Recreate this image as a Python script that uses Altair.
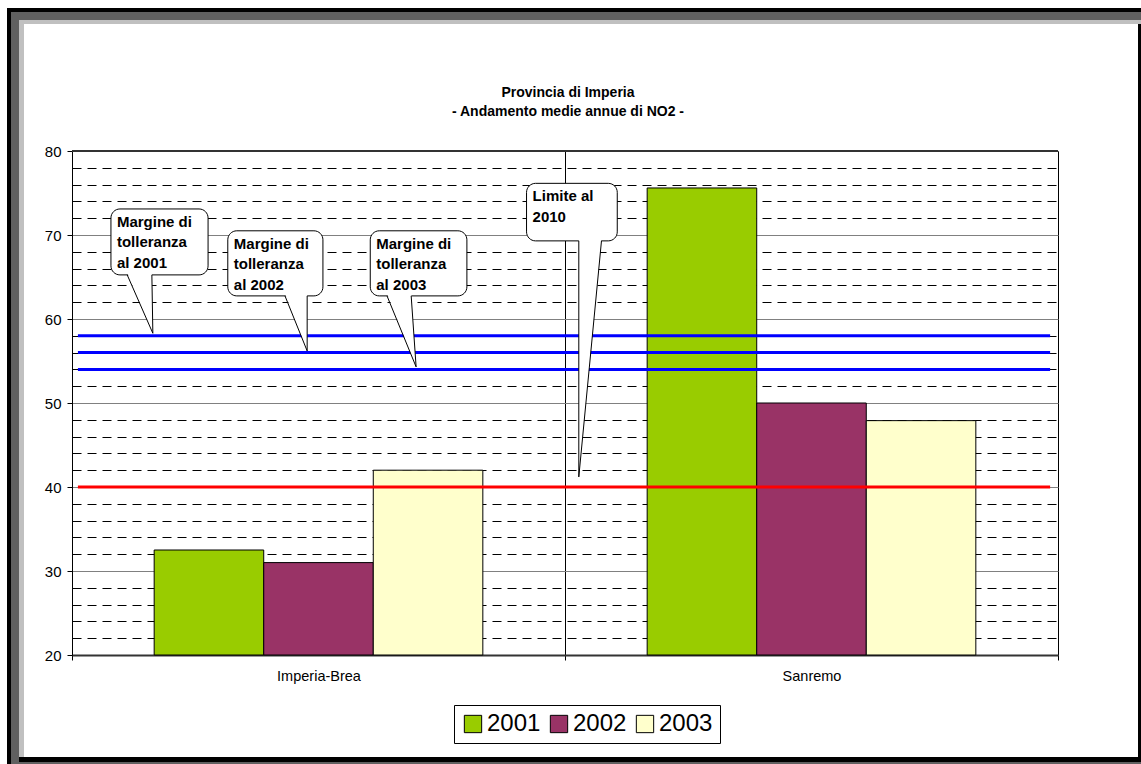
import altair as alt
import pandas as pd

# ---- data -----------------------------------------------------------------
stations = ["Imperia-Brea", "Sanremo"]
years = ["2001", "2002", "2003"]
no2_2001 = [32.5, 75.6]
no2_2002 = [31.0, 50.0]
no2_2003 = [42.0, 47.9]
year_colors = ["#99CC00", "#993366", "#FFFFCC"]

tolerance_margins = [58, 56, 54]   # margine di tolleranza 2001, 2002, 2003
limit_2010 = 40                    # limite al 2010

title_lines = ["Provincia di Imperia", "- Andamento medie annue di NO2 -"]

# callouts (x in station-band units 0..2, y in NO2 units)
callout_labels = [
    "Margine di\ntolleranza\nal 2001",
    "Margine di\ntolleranza\nal 2002",
    "Margine di\ntolleranza\nal 2003",
    "Limite al\n2010",
]
callout_x0 = [0.079, 0.316, 0.605, 0.922]
callout_x1 = [0.276, 0.509, 0.801, 1.106]
callout_top = [73.1, 70.5, 70.5, 76.15]
callout_bottom = [65.25, 62.75, 62.75, 69.3]
pointer_left = [0.112, 0.432, 0.639, 1.028]
pointer_right = [0.162, 0.477, 0.688, 1.074]
pointer_tip_x = [0.164, 0.477, 0.698, 1.028]
pointer_tip_y = [58.3, 56.2, 54.3, 41.2]

line_x0, line_x1 = 0.012, 1.984

# ---- layout ---------------------------------------------------------------
W, H = 986, 504
PAD_L, PAD_T = 72, 151
PAD_R, PAD_B = 1141 - PAD_L - W, 764 - PAD_T - H
FONT = "Liberation Sans"

y_scale = alt.Scale(domain=[20, 80], nice=False, zero=False)
band_x = alt.Scale(domain=[0, 2], nice=False, zero=False)
one_row = alt.Data(values=[{"k": 0}])

major = "datum.value % 10 === 0"
y_axis = alt.Axis(
    title=None, values=list(range(20, 81, 2)),
    labelExpr=f"{major} ? datum.label : ''",
    grid=True,
    gridColor={"condition": {"test": major, "value": "#808080"}, "value": "#000000"},
    gridDash={"condition": {"test": major, "value": []}, "value": [9, 6]},
    gridWidth=1,
    tickOpacity={"condition": {"test": major, "value": 1}, "value": 0},
    tickSize=5, tickColor="black", domainColor="black",
    labelFont=FONT, labelFontSize=15, labelColor="black", labelPadding=6,
)

def y_enc(field):
    return alt.Y(field, scale=y_scale, axis=y_axis)

# ---- bars -----------------------------------------------------------------
bars_df = pd.DataFrame({
    "station": stations * 3,
    "year": [y for y in years for _ in stations],
    "no2": no2_2001 + no2_2002 + no2_2003,
})

bars = alt.Chart(bars_df).mark_bar(stroke="black", strokeWidth=1).encode(
    x=alt.X(
        "station:N", sort=stations,
        scale=alt.Scale(paddingInner=0, paddingOuter=0),
        axis=alt.Axis(
            title=None, labelAngle=0, tickBand="extent", grid=True,
            gridColor="black", gridWidth=1, tickSize=5, tickColor="black",
            domainColor="#333333", domainWidth=2, labelFont=FONT,
            labelFontSize=14.5, labelColor="black", labelPadding=9,
        ),
    ),
    xOffset=alt.XOffset("year:N", sort=years,
                        scale=alt.Scale(paddingInner=0, paddingOuter=0.75)),
    y=y_enc("no2:Q"),
    y2=alt.datum(20),
    color=alt.Color(
        "year:N", sort=years,
        scale=alt.Scale(domain=years, range=year_colors),
        legend=alt.Legend(
            title=None, orient="none", legendX=382, legendY=554,
            direction="horizontal", symbolType="square", symbolSize=300,
            symbolStrokeColor="black", symbolStrokeWidth=1,
            labelFont=FONT, labelFontSize=24, labelColor="black",
            labelOffset=2, columnPadding=6, padding=7,
            strokeColor="black", fillColor="white",
        ),
    ),
)

# ---- reference levels -----------------------------------------------------
margins_df = pd.DataFrame({"level": tolerance_margins, "x0": line_x0, "x1": line_x1})
limit_df = pd.DataFrame({"level": [limit_2010], "x0": [line_x0], "x1": [line_x1]})

def level_rules(df, color):
    return alt.Chart(df).mark_rule(color=color, strokeWidth=3).encode(
        x=alt.X("x0:Q", scale=band_x, axis=None),
        x2="x1:Q",
        y=y_enc("level:Q"),
    )

blue_lines = level_rules(margins_df, "#0000FF")
red_line = level_rules(limit_df, "#FF0000")

top_border = alt.Chart(one_row).mark_rule(color="#333333", strokeWidth=2).encode(
    y=alt.value(0), x=alt.value(0), x2=alt.value(W)
)

# ---- callouts -------------------------------------------------------------
co_df = pd.DataFrame({
    "label": callout_labels, "x0": callout_x0, "x1": callout_x1,
    "top": callout_top, "bottom": callout_bottom,
})

boxes = alt.Chart(co_df).mark_rect(
    fill="white", stroke="black", strokeWidth=1, cornerRadius=9
).encode(
    x=alt.X("x0:Q", scale=band_x, axis=None), x2="x1:Q",
    y=y_enc("top:Q"), y2="bottom:Q",
)

fill_rows, edge_rows = [], []
for i in range(len(callout_labels)):
    fill_rows.append({"id": i, "py": callout_bottom[i] + 0.3,
                      "pl": pointer_left[i], "pr": pointer_right[i]})
    fill_rows.append({"id": i, "py": pointer_tip_y[i],
                      "pl": pointer_tip_x[i], "pr": pointer_tip_x[i]})
    for bx in (pointer_left[i], pointer_right[i]):
        edge_rows.append({"xa": bx, "ya": callout_bottom[i],
                          "xb": pointer_tip_x[i], "yb": pointer_tip_y[i]})

pointer_fill = alt.Chart(pd.DataFrame(fill_rows)).mark_area(
    orient="horizontal", fill="white", opacity=1
).encode(
    y=y_enc("py:Q"),
    x=alt.X("pl:Q", scale=band_x, axis=None), x2="pr:Q",
    detail="id:N",
)

pointer_edges = alt.Chart(pd.DataFrame(edge_rows)).mark_rule(
    color="black", strokeWidth=1
).encode(
    x=alt.X("xa:Q", scale=band_x, axis=None), x2="xb:Q",
    y=y_enc("ya:Q"), y2="yb:Q",
)

callout_text = alt.Chart(co_df).mark_text(
    align="left", baseline="top", lineBreak="\n", font=FONT, fontSize=15,
    fontWeight="bold", lineHeight=20.5, dx=6, dy=6, color="black",
).encode(
    x=alt.X("x0:Q", scale=band_x, axis=None),
    y=y_enc("top:Q"),
    text="label:N",
)

# ---- title, drawn above the plot area -------------------------------------
title_df = pd.DataFrame({"line": title_lines, "row": [0, 1]})

def title_line(row, y_px):
    return alt.Chart(title_df).mark_text(
        font=FONT, fontSize=14, fontWeight="bold", color="black",
        align="center", baseline="middle",
    ).encode(
        x=alt.value(W / 2 + 3),
        y=alt.value(y_px - PAD_T),
        text="line:N",
    ).transform_filter(f"datum.row === {row}")

title = title_line(0, 93)
subtitle = title_line(1, 112)

# ---- outer frame with shadow bands (pixel positions on the page) ----------
def band(x0, x1, y0, y1, color):
    return alt.Chart(one_row).mark_rect(color=color).encode(
        x=alt.value(x0 - PAD_L), x2=alt.value(x1 - PAD_L),
        y=alt.value(y0 - PAD_T), y2=alt.value(y1 - PAD_T),
    )

frame = [
    band(7, 11, 8, 764, "#000000"),
    band(7, 1141, 8, 12, "#000000"),
    band(11, 1141, 12, 20, "#606060"),
    band(11, 19, 12, 764, "#606060"),
    band(19, 1141, 20, 24, "#C0C0C0"),
    band(19, 24, 20, 757, "#C0C0C0"),
    band(19, 1141, 757, 762, "#000000"),
    band(11, 1141, 762, 764, "#606060"),
    band(1138, 1141, 24, 762, "#000000"),
]

chart = alt.layer(
    bars, red_line, blue_lines, top_border,
    boxes, pointer_fill, pointer_edges, callout_text,
    title, subtitle,
    *frame,
).resolve_scale(x="independent").properties(
    width=W, height=H,
    autosize=alt.AutoSizeParams(type="none"),
    padding={"left": PAD_L, "top": PAD_T, "right": PAD_R, "bottom": PAD_B},
).configure(background="white").configure_view(stroke="black", strokeWidth=1)

chart.save("out.html", embed_options={"renderer": "svg", "actions": False})
